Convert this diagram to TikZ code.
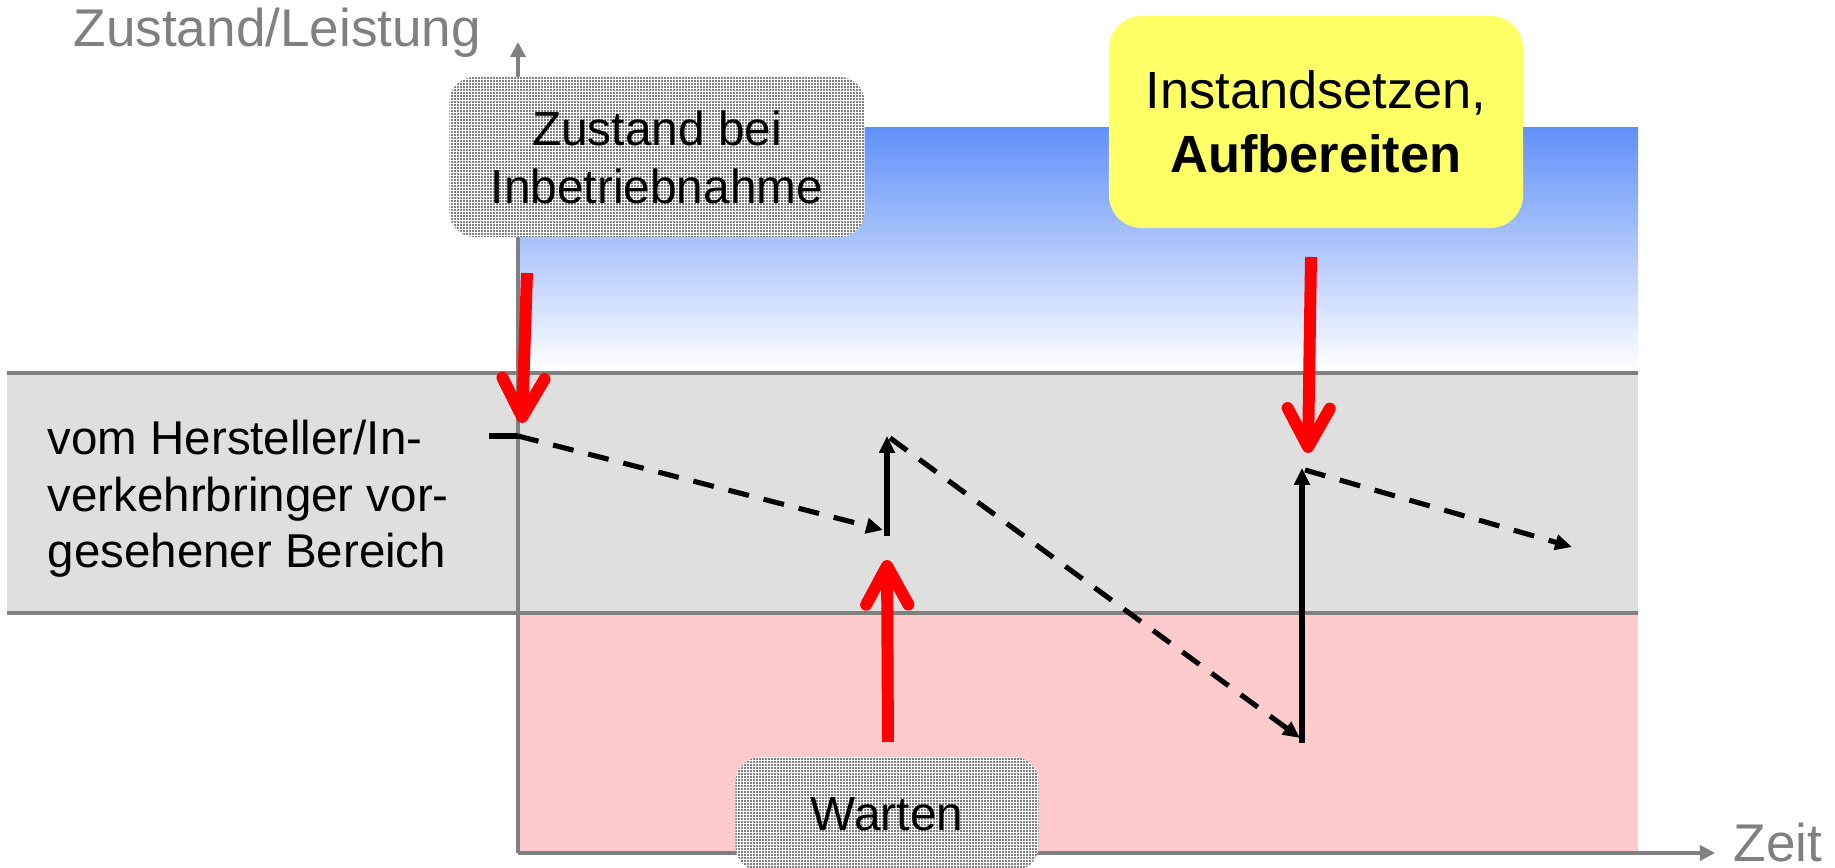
\documentclass[tikz,border=0pt]{standalone}
\usepackage{fontspec}
\setmainfont{Liberation Sans}
\usetikzlibrary{arrows.meta,patterns.meta}
\definecolor{axisgray}{RGB}{128,128,128}
\definecolor{bandgray}{RGB}{223,223,223}
\definecolor{pinkzone}{RGB}{253,203,203}
\definecolor{bluetop}{RGB}{96,144,248}
\definecolor{noteyellow}{RGB}{255,255,102}
\tikzdeclarepattern{
  name=finedots,
  type=uncolored,
  bounding box={(0pt,0pt) and (0.85pt,0.85pt)},
  tile size={(0.85pt,0.85pt)},
  code={\pgfpathrectangle{\pgfpointorigin}{\pgfpoint{0.5pt}{0.5pt}}\pgfusepath{fill}}
}
\tikzset{
  axisline/.style={draw=axisgray, line width=1.15pt, -{Triangle[length=4.3pt,width=4.3pt]}},
  bandline/.style={draw=axisgray, line width=1.15pt},
  redarrow/.style={draw=red, line width=3.4pt, -{Straight Barb[length=11pt,width=12pt,round]}},
  trend/.style={draw=black, line width=1.45pt, dash pattern=on 6pt off 4.3pt, -{Triangle[length=4.8pt,width=4.3pt]}},
  jump/.style={draw=black, line width=1.45pt, -{Triangle[length=4.8pt,width=4.3pt]}},
  plainline/.style={draw=black, line width=1.45pt},
  graylabel/.style={text=axisgray, inner sep=0pt, font=\fontsize{15.1}{17}\selectfont},
  bandtext/.style={inner sep=0pt, font=\fontsize{13.5}{16}\selectfont},
  dotbox/.style={rounded corners=0.25cm, preaction={fill=white}, pattern=finedots, pattern color=axisgray, inner sep=0pt, align=center, font=\fontsize{13.6}{16.5}\selectfont},
  yellowbox/.style={rounded corners=0.33cm, fill=noteyellow, inner sep=0pt, align=center, font=\fontsize{14.9}{18.2}\selectfont}
}
\begin{document}
\begin{tikzpicture}[x=0.01cm,y=-0.01cm]
\useasboundingbox (0,0) rectangle (1835,868);
% zones
\shade[top color=bluetop, bottom color=white] (518,128) rectangle (1638,371);
\fill[bandgray] (7,373) rectangle (1638,613);
\fill[pinkzone] (518,613) rectangle (1638,853);
\draw[bandline] (7,373) -- (1638,373);
\draw[bandline] (7,613) -- (1638,613);
% axes
\coordinate (O) at (518,853);
\coordinate (ytop) at (518,42);
\coordinate (xend) at (1715,853);
\draw[axisline] (O) -- (ytop);
\draw[axisline] (O) -- (xend);
\node[graylabel, anchor=base west] (ylab) at (73,47) {Zustand/Leistung};
\node[graylabel, anchor=base west] (xlab) at (1733,862) {Zeit};
% band label
\node[bandtext, anchor=base west] (band1) at (47,455) {vom Hersteller/In-};
\node[bandtext, anchor=base west] (band2) at (47,512) {verkehrbringer vor-};
\node[bandtext, anchor=base west] (band3) at (47,568) {gesehener Bereich};
% condition path
\coordinate (p0) at (489,436);
\coordinate (p1) at (518,436);
\coordinate (p2) at (883,530);
\coordinate (p3) at (887,536);
\coordinate (p4) at (887,436);
\coordinate (p5) at (890,438);
\coordinate (p6) at (1300,738);
\coordinate (p7) at (1302,743);
\coordinate (p8) at (1302,468);
\coordinate (p9) at (1305,470);
\coordinate (p10) at (1572,547);
\draw[plainline] (p0) -- (p1);
\draw[trend] (p1) -- (p2);
\draw[jump] (p3) -- (p4);
\draw[trend] (p5) -- (p6);
\draw[jump] (p7) -- (p8);
\draw[trend] (p9) -- (p10);
% boxes
\node[dotbox, minimum width=4.15cm, minimum height=1.6cm] (start) at (657,157) {Zustand bei\\Inbetriebnahme};
\node[yellowbox, minimum width=4.14cm, minimum height=2.12cm] (repair) at (1316,122) {Instandsetzen,\\\textbf{Aufbereiten}};
\begin{scope}
\clip (0,0) rectangle (1835,868);
\node[dotbox, minimum width=3.03cm, minimum height=1.14cm] (maint) at (887,814) {Warten};
\end{scope}
% red arrows
\coordinate (r1s) at (527,273);
\coordinate (r1t) at (522,423);
\coordinate (r2s) at (1311,257);
\coordinate (r2t) at (1308,453);
\coordinate (r3s) at (888,742);
\coordinate (r3t) at (887,560);
\draw[redarrow] (r1s) -- (r1t);
\draw[redarrow] (r2s) -- (r2t);
\draw[redarrow] (r3s) -- (r3t);
\end{tikzpicture}
\end{document}
